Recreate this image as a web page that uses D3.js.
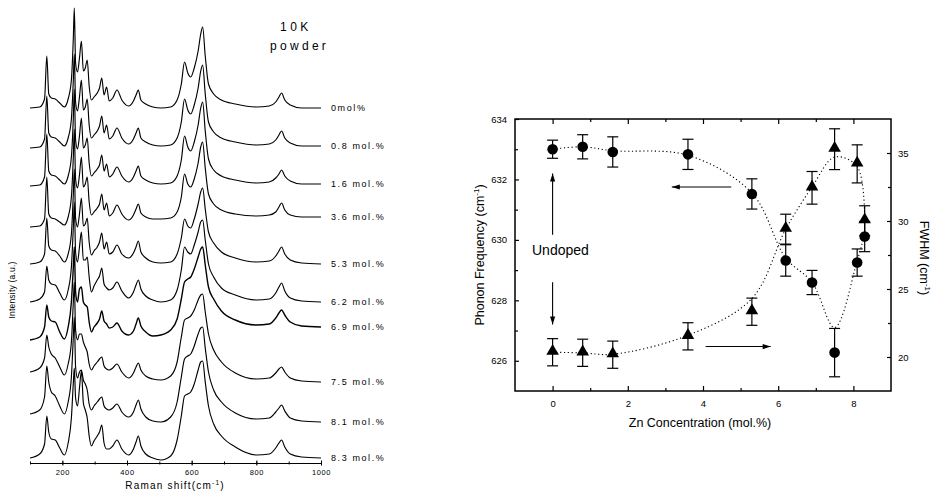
<!DOCTYPE html>
<html>
<head>
<meta charset="utf-8">
<script src="https://cdn.jsdelivr.net/npm/d3@7"></script>
<style>
  body { margin: 0; background: #fff; }
  svg text { font-family: Arial, "Liberation Sans", sans-serif; fill: #000; }
</style>
</head>
<body>
<svg id="chart" width="932" height="492"></svg>
<script>
// ---- left panel data: Raman spectra (intensity above each curve's own baseline, a.u.)
var shift = [100,130,145,152,158,166,178,192,206,218,228,234,237,241,247,253,259,265,271,277,
             283,290,298,308,315,322,329,337,345,356,369,384,405,420,428,435,443,458,480,505,
             535,555,568,578,588,597,608,620,628,634,642,652,668,692,735,800,840,860,870,878,
             888,905,940,1000];

var sp00 = [0,1,9,52,14,10,9,5,1,9,28,70,100,45,36,50,67,37,40,48,
            22,8,11,15,20,30,13,21,7,10,18,8,2,7,13,18,8,4,1,0,
            1,8,24,46,35,31,40,57,74,81,52,24,14,8,4,1,2,6,11,15,
            8,3,0,0];
var sp08 = [-2,-1,7,50,13,9,8,4,0,8,27,66,92,44,35,49,66,36,39,47,
            21,8,11,15,20,30,13,21,7,10,18,8,2,7,13,18,8,4,1,0,
            1,8,24,47,36,32,41,58,75,81,52,24,14,8,4,1,2,6,11,15,
            8,3,0,0];
var sp16 = [-2,-1,7,50,13,9,8,4,0,8,27,66,95,44,35,48,66,36,39,46,
            21,8,11,15,19,29,13,20,7,10,17,8,2,7,13,18,8,4,1,0,
            1,8,24,48,37,33,42,59,76,82,53,25,14,8,4,1,2,6,10,14,
            8,3,0,0];
var sp36 = [-10,-9,-2,40,3,-1,-2,-5,-8,0,20,60,88,38,29,42,60,30,33,40,
            15,2,5,9,13,23,7,14,1,4,12,3,-3,2,8,13,4,0,-2,-2,
            -1,5,20,43,33,30,38,54,70,75,49,23,13,7,3,1,2,5,10,14,
            7,2,0,0];
var sp53 = [0,2,10,46,18,14,13,8,2,10,30,70,95,46,37,50,66,38,40,46,
            22,9,13,17,22,31,15,22,10,12,19,10,6,11,17,23,12,6,2,1,
            2,10,26,45,38,36,45,60,72,76,55,32,21,12,6,2,3,8,13,17,
            10,4,1,0];
var sp62 = [0,3,10,36,22,18,17,9,2,12,35,75,100,50,40,55,70,42,42,45,
            25,10,16,22,26,34,18,14,12,14,20,11,4,10,17,22,13,6,2,0,
            2,12,32,55,50,48,57,70,80,82,62,38,25,14,7,2,3,9,15,19,
            11,4,1,0];
var sp69 = [-13,-10,0,22,10,6,5,-5,-12,0,25,60,80,35,25,38,40,25,22,20,
            5,-5,0,4,8,16,6,3,-1,0,4,-4,-8,-4,3,9,1,-5,-9,-8,
            -3,8,28,45,48,50,58,70,78,80,62,40,28,16,7,2,3,9,14,17,
            12,5,1,0];
var sp75 = [10,14,24,47,35,28,24,15,7,18,40,80,100,52,42,48,48,40,35,30,
            18,12,16,20,23,25,16,13,12,14,18,10,4,9,15,19,12,6,3,2,
            6,20,45,62,64,66,72,82,87,88,70,48,32,20,9,3,4,9,13,15,
            10,4,1,0];
var sp81 = [8,12,25,56,40,30,26,16,8,20,45,85,105,55,44,50,52,42,38,32,
            18,12,16,20,23,25,16,13,12,14,18,10,5,10,17,22,13,5,1,0,
            5,20,45,63,66,68,76,88,94,95,74,50,32,20,9,3,4,10,14,17,
            11,4,1,0];
var sp83 = [0,4,14,42,26,19,18,10,3,15,40,75,90,60,52,70,87,55,48,40,
            22,12,17,22,26,33,15,9,9,12,18,9,3,9,16,22,12,4,0,-2,
            2,18,42,62,64,66,74,88,96,97,76,52,34,22,11,3,4,10,15,18,
            11,4,1,0];

var spectra = [sp00, sp08, sp16, sp36, sp53, sp62, sp69, sp75, sp81, sp83];
var concLabels = ["0mol%", "0.8 mol.%", "1.6 mol.%", "3.6 mol.%", "5.3 mol.%",
                  "6.2 mol.%", "6.9 mol.%", "7.5 mol.%", "8.1 mol.%", "8.3 mol.%"];
// vertical stacking offset of each spectrum (a.u.)
var offsets = [355, 317, 279, 246, 199, 161, 136, 81, 41, 5];
var shiftTicks = [200, 400, 600, 800, 1000];

// ---- right panel data
var zn = [0, 0.8, 1.6, 3.6, 5.3, 6.2, 6.9, 7.5, 8.1, 8.3];
var freq = [633.0, 633.08, 632.91, 632.83, 631.52, 629.32, 628.59, 626.27, 629.25, 630.11];
var freqErr = [0.3, 0.4, 0.5, 0.5, 0.5, 0.52, 0.4, 0.8, 0.45, 0.5];
var freqFit = [633.0, 633.08, 632.95, 632.8, 631.55, 629.4, 628.6, 627.1, 629.3, 630.2];
var fwhm = [20.35, 20.31, 20.17, 21.52, 23.33, 29.4, 32.44, 35.28, 34.2, 30.02];
var fwhmErr = [1.0, 1.0, 1.0, 1.0, 1.0, 1.1, 1.2, 1.5, 1.4, 1.1];
var fwhmFit = [20.35, 20.3, 20.2, 21.6, 24.3, 29.4, 32.5, 34.7, 34.0, 30.0];
var znTicks = [0, 2, 4, 6, 8];
var freqTicks = [626, 628, 630, 632, 634];
var fwhmTicks = [20, 25, 30, 35];

var svg = d3.select("#chart");

// ================= left panel =================
var xL = d3.scaleLinear().domain([100, 1000]).range([30, 321]);
var yL = d3.scaleLinear().domain([0, 460]).range([463, 3]);

var spLine = d3.line()
  .x(function(d) { return xL(d[0]); })
  .y(function(d) { return yL(d[1]); })
  .curve(d3.curveMonotoneX);

spectra.forEach(function(s, i) {
  var pts = shift.map(function(w, j) { return [w, s[j] + offsets[i]]; });
  svg.append("path")
    .attr("d", spLine(pts))
    .attr("fill", "none")
    .attr("stroke", "#000")
    .attr("stroke-width", i === 6 ? 1.4 : 1.15)
    .attr("stroke-linejoin", "round");

  svg.append("text")
    .attr("x", xL(1000) + 10)
    .attr("y", yL(offsets[i]) + 3)
    .style("font-size", "9px")
    .style("letter-spacing", "1.6px")
    .text(concLabels[i]);
});

// bottom axis of spectra
var axL = svg.append("g")
  .attr("transform", "translate(0," + yL(0) + ")")
  .call(d3.axisBottom(xL).tickValues(shiftTicks).tickSize(2.5).tickSizeOuter(0).tickPadding(4)
        .tickFormat(d3.format("d")));
axL.select(".domain").attr("stroke-width", 1.2);
axL.selectAll(".tick line").attr("y1", -2.5);
axL.selectAll(".tick text").style("font-size", "7.5px").style("letter-spacing", "0.6px");
svg.append("g")
  .attr("transform", "translate(0," + yL(0) + ")")
  .call(d3.axisBottom(xL).tickValues(d3.range(100, 1001, 100)).tickSize(1.5).tickSizeOuter(0).tickFormat(""))
  .call(function(g) { g.select(".domain").remove(); g.selectAll(".tick line").attr("y1", -1.5); });

var rTitle = svg.append("text")
  .attr("x", 175).attr("y", 489)
  .attr("text-anchor", "middle")
  .style("font-size", "10px")
  .style("letter-spacing", "1.2px");
rTitle.append("tspan").text("Raman shift(cm");
rTitle.append("tspan").attr("dy", -4).style("font-size", "6.5px").text("-1");
rTitle.append("tspan").attr("dy", 4).text(")");

svg.append("text")
  .attr("transform", "translate(15,290) rotate(-90)")
  .attr("text-anchor", "middle")
  .style("font-size", "8.5px")
  .style("letter-spacing", "0.2px")
  .text("Intensity (a.u.)");

svg.append("text").attr("x", 280).attr("y", 31)
  .style("font-size", "12px").style("letter-spacing", "3.5px").text("10K");
svg.append("text").attr("x", 270).attr("y", 50)
  .style("font-size", "12px").style("letter-spacing", "3.3px").text("powder");

// ================= right panel =================
var x = d3.scaleLinear().domain([-1, 9]).range([515, 891]);
var yF = d3.scaleLinear().domain([625, 634]).range([391, 119]);
var yW = d3.scaleLinear().domain([17.5, 37.5]).range([391, 119]);

function styleAxis(g, fs) {
  g.select(".domain").remove();
  g.selectAll(".tick line").attr("stroke-width", 1.2);
  g.selectAll(".tick text").style("font-size", fs);
}

svg.append("g").attr("transform", "translate(0,391)")
  .call(d3.axisBottom(x).tickValues(znTicks).tickSize(-5).tickPadding(9))
  .call(styleAxis, "9.5px");
svg.append("g").attr("transform", "translate(0,391)")
  .call(d3.axisBottom(x).tickValues([1, 3, 5, 7]).tickSize(-3).tickFormat(""))
  .call(styleAxis, "9.5px");
svg.append("g").attr("transform", "translate(0,119)")
  .call(d3.axisTop(x).tickValues(znTicks).tickSize(-5).tickFormat(""))
  .call(styleAxis, "9.5px");
svg.append("g").attr("transform", "translate(0,119)")
  .call(d3.axisTop(x).tickValues([1, 3, 5, 7]).tickSize(-3).tickFormat(""))
  .call(styleAxis, "9.5px");
svg.append("g").attr("transform", "translate(515,0)")
  .call(d3.axisLeft(yF).tickValues(freqTicks).tickSize(-4).tickPadding(8))
  .call(styleAxis, "9.5px");
svg.append("g").attr("transform", "translate(515,0)")
  .call(d3.axisLeft(yF).tickValues([627, 629, 631, 633]).tickSize(-3).tickFormat(""))
  .call(styleAxis, "9.5px");
svg.append("g").attr("transform", "translate(891,0)")
  .call(d3.axisRight(yW).tickValues(fwhmTicks).tickSize(-4).tickPadding(7))
  .call(styleAxis, "9.5px");
svg.append("g").attr("transform", "translate(891,0)")
  .call(d3.axisRight(yW).tickValues([22.5, 27.5, 32.5]).tickSize(-3).tickFormat(""))
  .call(styleAxis, "9.5px");

svg.append("rect")
  .attr("x", 515).attr("y", 119).attr("width", 376).attr("height", 272)
  .attr("fill", "none").attr("stroke", "#000").attr("stroke-width", 1.5);

// dotted guide curves
var fitLineF = d3.line()
  .x(function(d, i) { return x(zn[i]); })
  .y(function(d) { return yF(d); })
  .curve(d3.curveCatmullRom);
var fitLineW = d3.line()
  .x(function(d, i) { return x(zn[i]); })
  .y(function(d) { return yW(d); })
  .curve(d3.curveCatmullRom);
svg.append("path").attr("d", fitLineF(freqFit))
  .attr("fill", "none").attr("stroke", "#000").attr("stroke-width", 1.1)
  .attr("stroke-dasharray", "1.2,2.6");
svg.append("path").attr("d", fitLineW(fwhmFit))
  .attr("fill", "none").attr("stroke", "#000").attr("stroke-width", 1.1)
  .attr("stroke-dasharray", "1.2,2.6");

// error bars
function errorBars(vals, errs, yScale) {
  var g = svg.append("g").attr("stroke", "#000").attr("stroke-width", 1.2);
  zn.forEach(function(c, i) {
    var cx = x(c), y1 = yScale(vals[i] - errs[i]), y2 = yScale(vals[i] + errs[i]);
    g.append("line").attr("x1", cx).attr("x2", cx).attr("y1", y1).attr("y2", y2);
    g.append("line").attr("x1", cx - 5.5).attr("x2", cx + 5.5).attr("y1", y1).attr("y2", y1);
    g.append("line").attr("x1", cx - 5.5).attr("x2", cx + 5.5).attr("y1", y2).attr("y2", y2);
  });
}
errorBars(freq, freqErr, yF);
errorBars(fwhm, fwhmErr, yW);

svg.append("g").selectAll("circle")
  .data(zn)
  .join("circle")
    .attr("cx", function(d) { return x(d); })
    .attr("cy", function(d, i) { return yF(freq[i]); })
    .attr("r", 5.3)
    .attr("fill", "#000");

svg.append("g").selectAll("path")
  .data(zn)
  .join("path")
    .attr("d", d3.symbol().type(d3.symbolTriangle).size(68))
    .attr("transform", function(d, i) { return "translate(" + x(d) + "," + (yW(fwhm[i]) - 1) + ")"; })
    .attr("fill", "#000");

// arrows
function arrow(x1, y1, x2, y2) {
  svg.append("line").attr("x1", x1).attr("y1", y1).attr("x2", x2).attr("y2", y2)
    .attr("stroke", "#000").attr("stroke-width", 1.1);
  var a = Math.atan2(y2 - y1, x2 - x1), L = 8, W = 2.6;
  var bx = x2 - L * Math.cos(a), by = y2 - L * Math.sin(a);
  var px = -Math.sin(a) * W, py = Math.cos(a) * W;
  svg.append("path")
    .attr("d", "M" + x2 + "," + y2 + "L" + (bx + px) + "," + (by + py) + "L" + (bx - px) + "," + (by - py) + "Z")
    .attr("fill", "#000");
}
arrow(x(0), yF(630.17), x(0), yF(632.2));
arrow(x(0), yF(628.6), x(0), yF(627.2));
arrow(x(4.75), yF(631.75), x(3.17), yF(631.75));
arrow(x(4.07), yF(626.47), x(5.8), yF(626.47));

svg.append("text").attr("x", 532).attr("y", 255)
  .style("font-size", "14px").text("Undoped");

// axis titles
svg.append("text").attr("x", 700).attr("y", 427)
  .attr("text-anchor", "middle").style("font-size", "12.5px")
  .text("Zn Concentration (mol.%)");

var fTitle = svg.append("text")
  .attr("transform", "translate(484,255) rotate(-90)")
  .attr("text-anchor", "middle").style("font-size", "12.5px");
fTitle.append("tspan").text("Phonon Frequency (cm");
fTitle.append("tspan").attr("dy", -5).style("font-size", "8px").text("-1");
fTitle.append("tspan").attr("dy", 5).text(")");

var wTitle = svg.append("text")
  .attr("transform", "translate(920,258) rotate(90)")
  .attr("text-anchor", "middle").style("font-size", "12.5px");
wTitle.append("tspan").text("FWHM (cm");
wTitle.append("tspan").attr("dy", -5).style("font-size", "8px").text("-1");
wTitle.append("tspan").attr("dy", 5).text(")");
</script>
</body>
</html>
